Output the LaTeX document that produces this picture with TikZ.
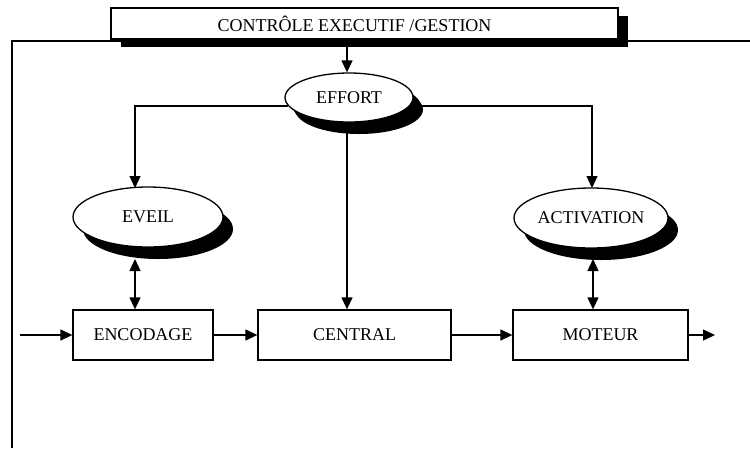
\documentclass[tikz,border=0pt]{standalone}
\usepackage{fontspec}
\setmainfont{Liberation Serif}
\usetikzlibrary{arrows.meta,shapes.geometric,shadows}
\tikzset{
  lw/.style={line width=1.3pt},
  tip/.tip={Triangle[length=12pt,width=11pt]},
  arr/.style={lw,-tip},
  darr/.style={lw,tip-tip},
  txt/.style={font=\fontsize{18}{21}\selectfont},
  boxnode/.style={draw,lw,fill=white,rectangle,inner sep=0pt,minimum height=50pt,txt},
  ellnode/.style={draw,lw,fill=white,ellipse,inner sep=0pt,txt,
    drop shadow={shadow xshift=10pt,shadow yshift=-12pt,fill=black,opacity=1}},
  topnode/.style={draw,lw,fill=white,rectangle,inner sep=0pt,minimum width=507pt,minimum height=31pt,txt,
    drop shadow={shadow xshift=10pt,shadow yshift=-8pt,fill=black,opacity=1}}
}
\begin{document}
\begin{tikzpicture}[x=1pt,y=-1pt]
\useasboundingbox (0,0) rectangle (750,448);
% frame
\draw[lw] (12,448) -- (12,41) -- (750,41);
% nodes
\node[topnode] (top) at (364.5,23.5) {CONTRÔLE EXECUTIF /GESTION\hspace*{20pt}};
\node[ellnode,minimum width=128pt,minimum height=49pt,
  drop shadow={shadow xshift=8pt,shadow yshift=-9pt,fill=black,opacity=1}] (effort) at (349,97.5) {EFFORT};
\node[ellnode,minimum width=150pt,minimum height=60pt] (eveil) at (148,217) {EVEIL};
\node[ellnode,minimum width=154pt,minimum height=60pt] (activation) at (591,218) {ACTIVATION};
\node[boxnode,minimum width=140pt] (encodage) at (143,335) {ENCODAGE};
\node[boxnode,minimum width=193pt] (central) at (354.5,335) {CENTRAL};
\node[boxnode,minimum width=175pt] (moteur) at (600.5,335) {MOTEUR};
% coordinates
\coordinate (cx) at (347,0);
\coordinate (c1) at (135,188);
\coordinate (c2) at (592,188);
\coordinate (e1) at (135,259);
\coordinate (e2) at (593,259);
\coordinate (in) at (20,335);
\coordinate (out) at (715,335);
% connectors
\draw[arr] (top.south -| cx) -- (effort.north -| cx);
\draw[arr] (effort.188) -| (c1);
\draw[arr] (effort.352) -| (c2);
\draw[arr] (effort.south -| cx) -- (central.north -| cx);
\draw[darr] (e1) -- (encodage.north -| e1);
\draw[darr] (e2) -- (moteur.north -| e2);
\draw[arr] (in) -- (encodage.west);
\draw[arr] (encodage.east) -- (central.west);
\draw[arr] (central.east) -- (moteur.west);
\draw[arr] (moteur.east) -- (out);
\end{tikzpicture}
\end{document}
